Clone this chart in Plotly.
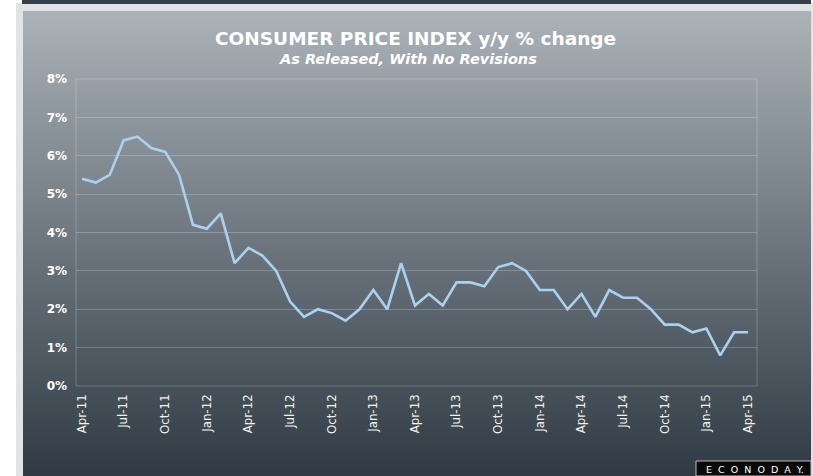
import base64
import struct
import zlib
import plotly.graph_objects as go

# ---- data ----
months = ["Apr-11","May-11","Jun-11","Jul-11","Aug-11","Sep-11","Oct-11","Nov-11","Dec-11",
          "Jan-12","Feb-12","Mar-12","Apr-12","May-12","Jun-12","Jul-12","Aug-12","Sep-12","Oct-12","Nov-12","Dec-12",
          "Jan-13","Feb-13","Mar-13","Apr-13","May-13","Jun-13","Jul-13","Aug-13","Sep-13","Oct-13","Nov-13","Dec-13",
          "Jan-14","Feb-14","Mar-14","Apr-14","May-14","Jun-14","Jul-14","Aug-14","Sep-14","Oct-14","Nov-14","Dec-14",
          "Jan-15","Feb-15","Mar-15","Apr-15"]
cpi_yy = [5.4, 5.3, 5.5, 6.4, 6.5, 6.2, 6.1, 5.5, 4.2,
          4.1, 4.5, 3.2, 3.6, 3.4, 3.0, 2.2, 1.8, 2.0, 1.9, 1.7, 2.0,
          2.5, 2.0, 3.2, 2.1, 2.4, 2.1, 2.7, 2.7, 2.6, 3.1, 3.2, 3.0,
          2.5, 2.5, 2.0, 2.4, 1.8, 2.5, 2.3, 2.3, 2.0, 1.6, 1.6, 1.4,
          1.5, 0.8, 1.4, 1.4]
y_ticks = [0, 1, 2, 3, 4, 5, 6, 7, 8]
y_tick_labels = [f"{v}%" for v in y_ticks]

W, H = 813, 476
ML, MR, MT, MB = 76, W - 757, 79, H - 386
PW, PH = W - ML - MR, H - MT - MB

def px_x(px):
    return (px - ML) / PW

def px_y(py):
    return (H - MB - py) / PH

# vertical gradient image for the panel background
def gradient_png(top, bot, h, w=4):
    rows = b""
    for i in range(h):
        t = i / (h - 1)
        c = bytes(int(round(top[k] + (bot[k] - top[k]) * t)) for k in range(3))
        rows += b"\x00" + c * w
    def chunk(tag, data):
        return struct.pack(">I", len(data)) + tag + data + struct.pack(">I", zlib.crc32(tag + data) & 0xffffffff)
    png = b"\x89PNG\r\n\x1a\n"
    png += chunk(b"IHDR", struct.pack(">IIBBBBB", w, h, 8, 2, 0, 0, 0))
    png += chunk(b"IDAT", zlib.compress(rows, 9))
    png += chunk(b"IEND", b"")
    return "data:image/png;base64," + base64.b64encode(png).decode()

panel_top, panel_bot = 11, H
grad = gradient_png((171, 178, 184), (47, 58, 68), panel_bot - panel_top)

xidx = list(range(len(months)))
tickvals = xidx[::3]
ticktext = months[::3]

fig = go.Figure()
fig.add_trace(go.Scatter(x=xidx, y=cpi_yy, mode="lines",
                         line=dict(color="#a9d2f0", width=2.6),
                         hoverinfo="skip", showlegend=False))

border = "#e2e3e4"
shapes = []
shapes.append(dict(type="rect", xref="paper", yref="paper", x0=px_x(16), x1=px_x(23), y0=px_y(H), y1=px_y(3),
                   fillcolor=border, line=dict(width=0), layer="below"))
shapes.append(dict(type="rect", xref="paper", yref="paper", x0=px_x(16), x1=px_x(W), y0=px_y(11), y1=px_y(3),
                   fillcolor=border, line=dict(width=0), layer="below"))
shapes.append(dict(type="rect", xref="paper", yref="paper", x0=px_x(811), x1=px_x(W), y0=px_y(H), y1=px_y(3),
                   fillcolor=border, line=dict(width=0), layer="below"))
shapes.append(dict(type="rect", xref="paper", yref="paper", x0=px_x(22), x1=px_x(811), y0=px_y(4), y1=px_y(0),
                   fillcolor="#34414b", line=dict(width=0), layer="below"))
shapes.append(dict(type="rect", xref="paper", yref="paper", x0=0, x1=1, y0=0, y1=1,
                   line=dict(color="rgba(255,255,255,0.22)", width=1), fillcolor="rgba(0,0,0,0)", layer="below"))
shapes.append(dict(type="rect", xref="paper", yref="paper", x0=px_x(696), x1=px_x(811), y0=px_y(H), y1=px_y(461),
                   fillcolor="#0a0a0a", line=dict(color="#bbbbbb", width=1), layer="above"))

images = [dict(source=grad, xref="paper", yref="paper",
               x=px_x(23), y=px_y(panel_top), sizex=px_x(811) - px_x(23),
               sizey=px_y(panel_top) - px_y(panel_bot), sizing="stretch",
               xanchor="left", yanchor="top", layer="below")]

annotations = [
    dict(text="<b>CONSUMER PRICE INDEX y/y % change</b>", xref="paper", yref="paper",
         x=px_x(415), y=px_y(39), showarrow=False, xanchor="center", yanchor="middle",
         font=dict(family="DejaVu Sans", size=18.5, color="#ffffff")),
    dict(text="<b><i>As Released, With No Revisions</i></b>", xref="paper", yref="paper",
         x=px_x(408), y=px_y(59), showarrow=False, xanchor="center", yanchor="middle",
         font=dict(family="DejaVu Sans", size=14.5, color="#ffffff")),
    dict(text="E  C  O  N  O  D  A  Y.", xref="paper", yref="paper",
         x=px_x(755), y=px_y(469), showarrow=False, xanchor="center", yanchor="middle",
         font=dict(family="DejaVu Sans", size=9.5, color="#ffffff")),
]

fig.update_layout(
    width=W, height=H,
    margin=dict(l=ML, r=MR, t=MT, b=MB, pad=0),
    paper_bgcolor="#ffffff",
    plot_bgcolor="rgba(0,0,0,0)",
    shapes=shapes,
    images=images,
    annotations=annotations,
    showlegend=False,
    xaxis=dict(range=[-0.43, 48.65], tickmode="array", tickvals=tickvals, ticktext=ticktext,
               tickangle=-90, showgrid=False, zeroline=False, showline=False, ticks="",
               ticklabelstandoff=5,
               tickfont=dict(family="DejaVu Sans", size=11.8, color="#f2f2e6"), fixedrange=True),
    yaxis=dict(range=[0, 8], tickmode="array", tickvals=y_ticks, ticktext=y_tick_labels,
               showgrid=True, gridcolor="rgba(255,255,255,0.22)", gridwidth=1,
               zeroline=False, showline=False, ticks="", ticklabelstandoff=8,
               tickfont=dict(family="DejaVu Sans", size=12, color="#ffffff", weight="bold"), fixedrange=True),
)

fig.write_html("out.html", config={"displayModeBar": False},
               post_script="document.body.style.margin='0';document.body.style.padding='0';")
